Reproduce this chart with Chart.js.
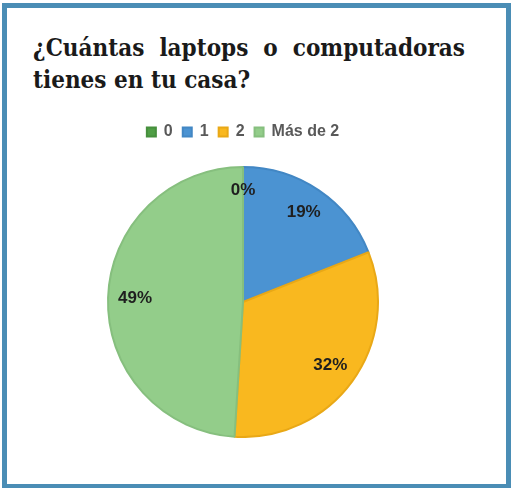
<!DOCTYPE html>
<html>
<head>
<meta charset="utf-8">
<script src="https://cdn.jsdelivr.net/npm/chart.js@4/dist/chart.umd.min.js"></script>
<style>
  html, body { margin: 0; padding: 0; background: #fff; width: 512px; height: 488px; overflow: hidden; }
  #frame { position: absolute; left: 2px; top: 3px; width: 509px; height: 486px; box-sizing: border-box; border: 5px solid #4a8db5; }
  #title { position: absolute; left: 33px; top: 32px; width: 432px; font: bold 24px "DejaVu Serif Condensed", "DejaVu Serif", serif; font-stretch: condensed; color: #1a1a1a; line-height: 32px; text-align: justify; text-align-last: left; }
  #wrap { position: absolute; left: 0px; top: 114px; width: 486px; height: 324px; }
</style>
</head>
<body>
<div id="frame"></div>
<div id="title">¿Cuántas laptops o computadoras tienes en tu casa?</div>
<div id="wrap"><canvas id="c"></canvas></div>
<script>
const categories = ["0", "1", "2", "Más de 2"];
const values = [0, 19, 32, 49];
const valueLabels = ["0%", "19%", "32%", "49%"];
const colors = ["#4f9e45", "#4b93d2", "#f9b81f", "#93cd8a"];
const edgeColors = ["#468f3d", "#4287c4", "#e9a816", "#86bf7e"];

const legendGap = {
  id: "legendGap",
  beforeInit(chart) {
    const lg = chart.legend;
    if (!lg) return;
    const fit = lg.fit;
    lg.fit = function () { fit.call(this); this.height += 16; };
  }
};

const labelPlugin = {
  id: "sliceLabels",
  afterDatasetsDraw(chart) {
    const ctx = chart.ctx;
    const meta = chart.getDatasetMeta(0);
    ctx.save();
    ctx.font = "bold 17px 'Liberation Sans', sans-serif";
    ctx.fillStyle = "#1f1f1f";
    ctx.textAlign = "center";
    ctx.textBaseline = "middle";
    meta.data.forEach((arc, i) => {
      const p = arc.getProps(["x", "y", "startAngle", "endAngle", "outerRadius"], true);
      const mid = (p.startAngle + p.endAngle) / 2;
      const f = values[i] === 0 ? 0.83 : 0.80;
      const x = p.x + Math.cos(mid) * p.outerRadius * f;
      const y = p.y + Math.sin(mid) * p.outerRadius * f;
      ctx.fillText(valueLabels[i], x, y);
    });
    ctx.restore();
  }
};

new Chart(document.getElementById("c"), {
  type: "pie",
  data: {
    labels: categories,
    datasets: [{
      data: values,
      backgroundColor: colors,
      borderColor: edgeColors,
      borderWidth: 2
    }]
  },
  options: {
    responsive: true,
    maintainAspectRatio: false,
    animation: false,
    layout: { padding: 0 },
    plugins: {
      legend: {
        position: "top",
        labels: {
          boxWidth: 9,
          boxHeight: 9,
          padding: 10,
          color: "#595959",
          font: { family: "'Liberation Sans', sans-serif", size: 16, weight: "bold" }
        }
      },
      tooltip: { enabled: false }
    }
  },
  plugins: [legendGap, labelPlugin]
});
</script>
</body>
</html>
